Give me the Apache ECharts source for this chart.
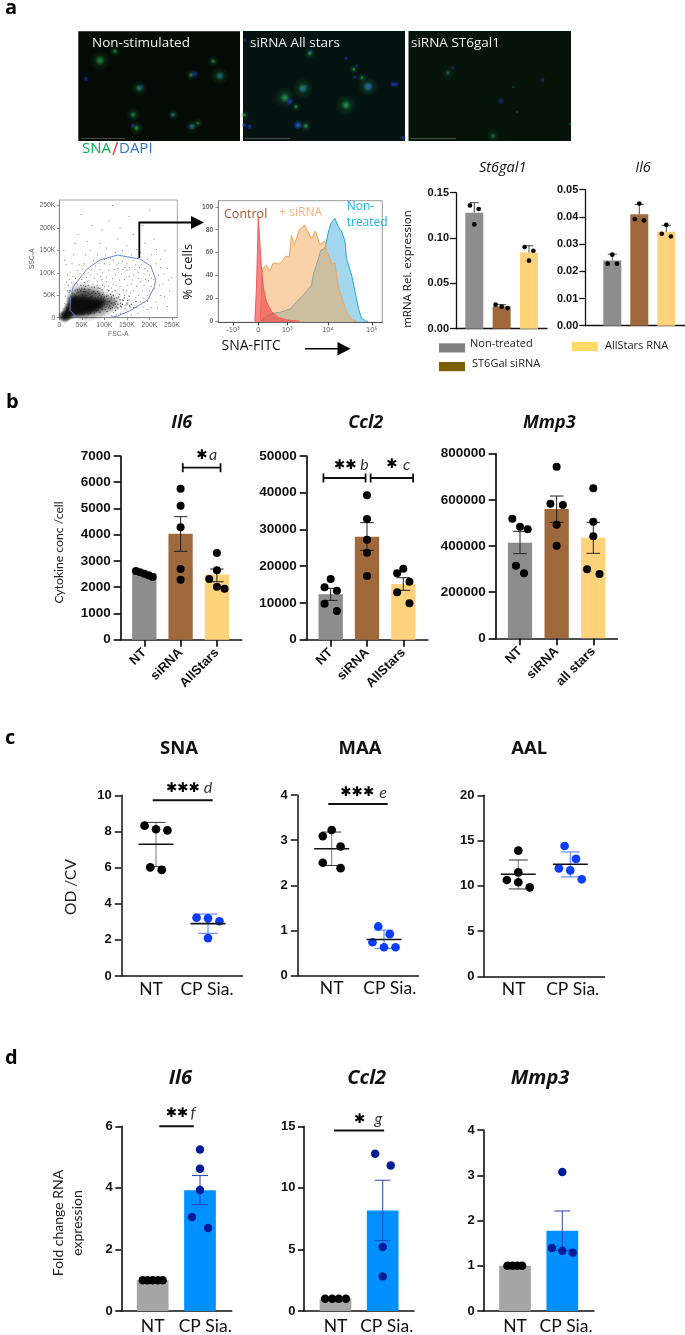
<!DOCTYPE html>
<html><head><meta charset="utf-8"><title>Figure</title>
<style>html,body{margin:0;padding:0;background:#fff}#c{width:685px;height:1335px}</style>
<script src="https://cdn.jsdelivr.net/npm/echarts@6/dist/echarts.min.js"></script>
</head><body><div id="c"></div>
<script>
// ---------- DATA ----------
const aCats=['Non-treated','ST6Gal siRNA','AllStars RNA'];
const bCats=['NT','siRNA','AllStars'];
const bCats3=['NT','siRNA','all stars'];
const cdCats=['NT','CP Sia.'];
// panel a qPCR
const aStBars=[0.128,0.0245,0.084];
const aStPts=[[0.84,0.136],[1.16,0.132],[1,0.115],[1.78,0.0265],[2,0.0243],[2.22,0.0228],[2.84,0.090],[3.16,0.086],[3,0.075]];
const aStErr=[[1,0.128,0.139],[2,0.0245,0.0265],[3,0.084,0.0915]];
const aIlBars=[0.024,0.041,0.0345];
const aIlPts=[[0.83,0.0228],[1.17,0.0228],[1,0.0261],[1.83,0.0392],[2.17,0.0387],[2,0.0449],[2.83,0.0338],[3.17,0.0328],[3,0.0371]];
const aIlErr=[[1,0.024,0.0263],[2,0.041,0.0446],[3,0.0345,0.0369]];
// panel b
const bIlBars=[2530,4040,2480];
const bIlPts=[[0.77,2617],[0.88,2566],[1,2515],[1.12,2452],[1.23,2388],[2,5755],[2,5107],[2,4281],[2,2693],[2,2287],[3,3303],[3,2642],[2.79,2312],[3,2020],[3.21,1944]];
const bIlErr=[[2,3367,4688],[3,2210,2693]];
const bCcBars=[12340,28040,15150];
const bCcPts=[[1,16500],[0.83,14250],[1.17,13340],[0.83,9800],[1.17,7800],[2,39300],[2,32850],[2,27220],[2,23680],[2,17330],[3,19330],[2.83,18060],[3.17,15790],[2.83,12890],[3.17,9890]];
const bCcErr=[[1,10700,13975],[2,24320,31850],[3,13430,16880]];
const bMmBars=[414400,560300,436100];
const bMmPts=[[0.79,518400],[1,483700],[1.21,472200],[0.89,314800],[1.11,281600],[2,743700],[1.83,583400],[2.17,577600],[2,492400],[2,401400],[3,649800],[3,505400],[3,441900],[2.83,298900],[3.17,278700]];
const bMmErr=[[1,366800,463500],[2,502500,616600],[3,368200,502500]];
// panel c
const cSnaNT=[[0.78,8.32],[1,8.12],[1.22,8.06],[0.89,6.01],[1.11,5.87]];
const cSnaCP=[[1.78,3.23],[2,3.19],[2.22,3.03],[2,2.10]];
const cSnaMean=[[1,7.29],[2,2.90]];
const cSnaErrNT=[[1,6.05,8.5]];
const cSnaErrCP=[[2,2.36,3.43]];
const cMaaNT=[[1,3.225],[0.83,3.09],[1.17,2.86],[0.83,2.50],[1.17,2.38]];
const cMaaCP=[[1.89,1.09],[2.11,0.92],[1.78,0.74],[2,0.63],[2.22,0.63]];
const cMaaMean=[[1,2.81],[2,0.80]];
const cMaaErrNT=[[1,2.44,3.18]];
const cMaaErrCP=[[2,0.60,1.01]];
const cAalNT=[[1,13.89],[1,11.49],[0.78,10.64],[1,10.39],[1.22,9.83]];
const cAalCP=[[1.89,14.4],[2.11,12.97],[1.78,11.93],[2,11.71],[2.22,10.72]];
const cAalMean=[[1,11.27],[2,12.38]];
const cAalErrNT=[[1,9.65,12.85]];
const cAalErrCP=[[2,10.98,13.74]];
// panel d
const dIlBars=[1,3.92];
const dIlNT=[[0.79,1],[0.89,1],[1,1],[1.11,1],[1.21,1]];
const dIlCP=[[2,5.25],[2,4.62],[2,3.93],[1.83,3.05],[2.17,2.70]];
const dIlErr=[[2,3.45,4.40]];
const dCcBars=[1,8.17];
const dCcNT=[[0.78,1],[0.93,1],[1.07,1],[1.22,1]];
const dCcCP=[[1.84,12.78],[2.17,11.82],[2,5.2],[2,2.8]];
const dCcErr=[[2,5.71,10.62]];
const dMmBars=[1,1.775];
const dMmNT=[[0.84,1],[0.95,1],[1.05,1],[1.15,1]];
const dMmCP=[[2,3.07],[1.78,1.39],[2,1.33],[2.22,1.29]];
const dMmErr=[[2,1.34,2.21]];
// flow histogram (display position, % of cells)
const histBlue=[[0.08,0],[0.12,2.6],[0.23,5.5],[0.35,7],[0.5,7.8],[0.74,10.8],[0.89,17],[1.05,23],[1.24,31.7],[1.28,41],[1.4,55],[1.45,62],[1.55,63.7],[1.63,78],[1.69,85.5],[1.78,90],[1.86,82.6],[1.94,78],[2.02,69.5],[2.05,55],[2.17,40.4],[2.25,25.9],[2.33,11.3],[2.4,2.6],[2.5,0.3],[2.55,0]];
const histOrange=[[0.05,0],[0.08,31],[0.1,46],[0.19,49],[0.26,44],[0.35,51],[0.5,50],[0.64,57],[0.72,56],[0.77,75],[0.84,66.6],[0.95,79.7],[1.07,84],[1.16,78],[1.24,71.8],[1.33,79],[1.43,67],[1.55,70],[1.59,62],[1.71,50],[1.78,50.6],[1.86,30],[1.98,17],[2.05,8.4],[2.17,2],[2.29,0]];
const histRed=[[-0.08,0],[-0.04,32],[0,91],[0.04,66.6],[0.08,43],[0.12,29],[0.19,17],[0.31,8.4],[0.47,3.2],[0.66,1.2],[0.97,0]];
const histTicks=[-0.59,0,0.67,1.62,2.64];
const histTickLabels=['-10³','0','10³','10⁴','10⁵'];
// gate plot, FSC-A / SSC-A in thousands
const gatePoly=[[38.6,0.7],[23.7,17],[25.2,46.7],[31,69],[60.8,107.6],[89,128],[129,139.5],[179.5,130.6],[203,115],[214,85],[211.4,69],[196,39],[157,15.6],[129,3.7],[109,0]];
const gateSparse=[[10,150],[15,118],[18,95],[22,85],[28,120],[32,140],[35,165],[40,105],[42,185],[48,230],[55,120],[58,140],[62,170],[70,150],[72,205],[85,140],[90,165],[95,195],[100,130],[105,155],[110,215],[118,250],[125,145],[130,175],[135,200],[140,150],[150,160],[155,225],[160,140],[165,185],[172,152],[180,145],[185,205],[190,165],[195,130],[205,140],[210,175],[215,120],[220,95],[225,130],[230,75],[235,150],[240,110],[245,60],[225,50],[215,35],[205,22],[195,18],[175,10],[160,6],[240,25],[250,90],[200,240],[150,120],[170,118],[140,125],[120,128],[100,120],[80,115],[190,110],[175,100],[200,95],[205,70],[185,60],[195,50],[180,80],[165,95],[150,105],[130,110],[110,105],[90,108],[70,95],[60,90],[50,85],[40,75],[35,60],[160,75],[145,85],[125,95],[105,90],[95,85],[85,80],[75,75],[170,45],[155,40],[140,30],[130,20],[120,12],[115,5],[180,35],[165,60],[150,60],[135,70],[120,75],[110,70],[100,70],[90,65],[200,60],[210,85],[192,85],[172,70],[158,55],[145,50],[128,55],[118,58],[108,50],[98,55],[182,118],[168,108],[155,92],[138,98],[122,108],[112,118],[96,100],[84,98],[72,108],[66,82],[142,62],[152,72],[162,84],[176,88],[188,72],[198,82],[146,112],[132,122],[118,88],[104,80],[92,92],[78,88],[12,128],[24,102],[30,92],[20,72],[36,88],[46,98],[44,118],[52,108],[64,100],[76,128],[88,122],[102,140],[114,132],[128,118],[142,108],[156,112],[164,128],[178,112],[188,98],[196,104],[204,88],[212,64],[222,72],[232,98],[242,84],[216,152],[226,112],[234,48],[218,22],[186,24],[172,22],[158,24],[148,12],[136,10],[126,6],[140,40],[152,30],[164,34],[176,50],[186,44],[196,36],[134,84],[126,72],[116,66],[106,62],[96,72],[84,72],[72,68],[62,80],[54,72],[44,64],[38,54],[22,56],[14,48],[12,32],[8,20],[18,60],[16,80],[28,78]];
const gateMedium=[[30,10],[35,22],[38,35],[42,48],[45,14],[48,60],[52,30],[55,8],[58,70],[60,50],[62,18],[66,62],[68,42],[70,10],[72,55],[75,28],[78,68],[80,45],[82,15],[85,58],[88,36],[90,50],[92,22],[95,62],[98,42],[100,30],[102,18],[105,48],[108,36],[110,60],[112,26],[115,42],[118,22],[120,50],[122,34],[125,16],[128,44],[130,30],[135,40],[138,24],[142,38],[146,20],[150,32],[155,48],[160,30],[165,22],[170,36],[48,72],[56,78],[64,72],[28,30],[26,45],[24,60],[30,55],[36,48],[44,38],[40,62],[50,44],[54,58],[74,38],[84,26],[94,34],[104,24],[114,52],[124,60],[134,52],[60,36],[66,26],[72,18],[34,14],[20,30],[16,22],[22,12],[46,24],[56,64],[86,66],[96,52],[116,32],[126,24],[136,32],[32,40],[34,52],[38,44],[42,56],[46,52],[50,64],[52,50],[56,46],[58,58],[62,44],[64,54],[68,52],[70,46],[74,48],[76,58],[80,54],[82,40],[86,46],[88,54],[92,44],[94,48],[98,34],[100,46],[102,38],[106,30],[108,42],[110,22],[112,36],[114,20],[116,46],[120,28],[122,42],[124,30],[126,36],[130,22],[132,46],[136,26],[140,30],[144,44],[148,28],[152,38],[156,26],[90,12],[96,18],[78,10],[64,8],[50,10],[40,8],[86,16],[106,14]];
const gateCore=[[12,5],[15,3],[18,8],[10,2],[20,14],[24,8],[22,20],[26,26],[28,16],[30,34],[32,22],[34,28],[36,18],[38,30],[40,24],[40,38],[42,16],[44,30],[44,22],[46,36],[48,26],[48,18],[50,32],[52,24],[52,40],[54,20],[56,30],[56,36],[58,26],[60,22],[60,32],[62,28],[64,38],[64,20],[66,30],[68,24],[70,34],[72,26],[74,30],[76,22],[78,34],[80,28],[84,32],[86,24],[90,30],[94,36],[36,12],[46,12],[58,14],[70,18],[28,42],[34,40]];
const gateHalo=[[34,32],[42,44],[52,50],[62,46],[72,44],[84,42],[96,40],[108,34],[118,32],[50,14],[66,12],[82,16],[98,20],[30,18],[40,56],[60,58],[80,54]];
// micrographs: position inside a 162x110 frame, blob size
const img1Green=[[21.7,29.3,9],[36.7,20,5],[61,57,7],[141.7,44.7,8],[135,30,5],[113,43.7,5],[55,83.7,6],[95,83.7,5],[114.3,95.3,6],[58.3,97,6],[120,92,4]];
const img1Blue=[[7.7,47.7,3],[116.7,42.7,4],[141.7,44.7,3],[63.3,56,3],[55,94.7,3],[113,96,3],[94.3,83.7,2.5]];
const img2Green=[[41.7,66.7,9],[60,57.3,9],[53,75.7,4],[62.7,95,5],[103,74,9],[125,55.7,9],[110.7,38.3,4],[119,46.7,4],[66.7,22.3,5],[55,94,4],[1.3,84,4]];
const img2Blue=[[46.7,70.7,4],[60,59,3],[125,55.7,5],[150,53.3,3],[153,53.3,3],[55,94,5],[6.7,95.7,3],[103,27.3,2],[114,34.7,2],[111.7,46.3,2],[68.3,20.7,2],[1.3,94,3],[160,107,3],[63,55.7,2],[1.7,9,2]];
const img3Green=[[39.3,41.7,5],[84.3,105,6],[108.3,81,2],[104.3,56,2],[161,93,2]];
const img3Blue=[[44.3,36.7,3],[39.3,42.7,2],[133.7,49,3],[92,70,4]];
const imgTitles=['Non-stimulated','siRNA All stars','siRNA ST6gal1'];

// ---------- STYLES ----------
const GRAY='#8d8d8d',BROWN='#9f693c',YEL='#ffd27b',BLUEBAR='#0090ff',GRAYD='#a6a6a6';
const BOLD='"Liberation Sans",Arial,sans-serif',SOFT='Lato,"Open Sans",sans-serif',TXT='#111';
const grids=[],xAxes=[],yAxes=[],series=[],titles=[],graphics=[];
function soft(r,g,b,a){return {type:'radial',x:0.5,y:0.5,r:0.5,colorStops:[{offset:0,color:`rgba(${r},${g},${b},${a})`},{offset:0.45,color:`rgba(${r},${g},${b},${a*0.55})`},{offset:1,color:`rgba(${r},${g},${b},0)`}]};}

function addGrid(o){
  const i=grids.length;
  grids.push({left:o.l,top:o.t,width:o.r-o.l,height:o.b-o.t,containLabel:false,show:!!o.bg,backgroundColor:o.bg||'transparent',borderWidth:0});
  const xmin=1-(o.c1-o.l)/o.sp, xmax=1+(o.r-o.c1)/o.sp;
  const tv=o.tickVals||[], lv=o.labelVals||tv, labs=o.labels||[];
  xAxes.push({type:'value',gridIndex:i,min:xmin,max:xmax,splitLine:{show:false},
    axisLine:{show:true,onZero:false,lineStyle:{color:'#111',width:o.lw||1.6}},
    axisTick:{show:!!o.xTick,customValues:tv,length:o.xTick||0,lineStyle:{color:'#111',width:o.lw||1.6}},
    axisLabel:{show:labs.length>0,customValues:lv,rotate:o.rot||0,margin:o.xm||5,color:TXT,
      fontFamily:o.xBold?BOLD:SOFT,fontWeight:o.xBold?'bold':'normal',fontSize:o.xs||16,
      formatter:v=>{let k=lv.findIndex(u=>Math.abs(u-v)<1e-6);return k<0?'':labs[k];}}});
  yAxes.push({type:'value',gridIndex:i,min:0,max:o.ymax,interval:o.yi,splitLine:{show:false},
    axisLine:{show:true,onZero:false,lineStyle:{color:'#111',width:o.lw||1.6}},
    axisTick:{show:true,length:o.ytl||6.5,lineStyle:{color:'#111',width:o.lw||1.6}},
    axisLabel:{margin:o.ym||3,color:TXT,fontFamily:BOLD,fontWeight:'bold',fontSize:o.ys||13,
      formatter:o.yfmt||(v=>String(v))}});
  return i;
}
function bars(g,vals,colors,w){
  series.push({type:'bar',xAxisIndex:g,yAxisIndex:g,barWidth:w,z:2,silent:true,
    data:vals.map((v,i)=>({value:[i+1,v],itemStyle:{color:colors[i]}}))});
}
function pts(g,data,color,size){
  series.push({type:'scatter',xAxisIndex:g,yAxisIndex:g,data,symbolSize:size,z:5,silent:true,clip:false,itemStyle:{color,opacity:1}});
}
function seg(x1,y1,x2,y2,stroke,lw){return {type:'line',shape:{x1,y1,x2,y2},style:{stroke,lineWidth:lw}};}
function err(g,data,color,cap,lw,noBottom,stemColor){
  series.push({type:'custom',xAxisIndex:g,yAxisIndex:g,data,encode:{x:0,y:[1,2]},z:4,silent:true,clip:false,
    renderItem:(p,api)=>{
      const a=api.coord([api.value(0),api.value(1)]),b=api.coord([api.value(0),api.value(2)]);
      const kids=[seg(a[0],a[1],b[0],b[1],stemColor||color,lw),seg(b[0]-cap,b[1],b[0]+cap,b[1],color,lw)];
      if(!noBottom)kids.push(seg(a[0]-cap,a[1],a[0]+cap,a[1],color,lw));
      return {type:'group',children:kids};
    }});
}
function means(g,data,half){
  series.push({type:'custom',xAxisIndex:g,yAxisIndex:g,data,encode:{x:0,y:1},z:6,silent:true,clip:false,
    renderItem:(p,api)=>{const a=api.coord([api.value(0),api.value(1)]);return seg(a[0]-half,a[1],a[0]+half,a[1],'#111',1.6);}});
}
function bracket(g,x1,x2,y,capPx,lw){
  series.push({type:'custom',xAxisIndex:g,yAxisIndex:g,data:[[x1,x2,y]],encode:{x:[0,1],y:2},z:6,silent:true,clip:false,
    renderItem:(p,api)=>{
      const a=api.coord([api.value(0),api.value(2)]),b=api.coord([api.value(1),api.value(2)]);
      const kids=[seg(a[0],a[1],b[0],b[1],'#111',lw||2)];
      if(capPx){kids.push(seg(a[0],a[1]-capPx,a[0],a[1]+capPx,'#111',lw||2),seg(b[0],b[1]-capPx,b[0],b[1]+capPx,'#111',lw||2));}
      return {type:'group',children:kids};
    }});
}
function title(text,x,y,size,italic,weight){
  titles.push({text,left:x,top:y,textAlign:'center',textVerticalAlign:'middle',padding:0,
    textStyle:{fontFamily:'"Open Sans",sans-serif',fontSize:size,fontStyle:italic?'italic':'normal',fontWeight:weight||'bold',color:'#111'}});
}
function text(str,x,y,o){o=o||{};
  graphics.push({type:'text',x,y,rotation:o.rot||0,z:50,silent:true,style:{text:str,fill:o.c||'#111',
    font:`${o.it?'italic ':''}${o.w||'normal'} ${o.s||13}px ${o.f||SOFT}`,
    align:o.a||'left',verticalAlign:'middle',lineHeight:o.lh}});
}
function sig(stars,sx,letter,lx,y){
  text(stars,sx,y,{s:13.5,w:'bold',f:'"DejaVu Sans"',a:'center',c:'#000'});
  text(letter,lx,y,{s:16,it:true,a:'center',c:'#333'});
}

// ---------- PANEL a: micrographs ----------
function micro(l,r,t,b,bg,green,blue,k){
  const g=grids.length;
  grids.push({left:l,top:t,width:r-l,height:b-t,show:true,backgroundColor:bg,borderWidth:0,containLabel:false});
  xAxes.push({type:'value',gridIndex:g,min:0,max:162,show:false});
  yAxes.push({type:'value',gridIndex:g,min:0,max:110,inverse:true,show:false});
  series.push({type:'scatter',xAxisIndex:g,yAxisIndex:g,data:green,symbolSize:v=>v[2]*2.4,z:2,silent:true,
    itemStyle:{color:soft(25,120,55,0.55*k)}});
  series.push({type:'scatter',xAxisIndex:g,yAxisIndex:g,data:green,symbolSize:v=>v[2]*1.1,z:3,silent:true,
    itemStyle:{color:soft(35,185,85,0.95*k)}});
  series.push({type:'scatter',xAxisIndex:g,yAxisIndex:g,data:blue,symbolSize:v=>v[2]*2,z:4,silent:true,
    itemStyle:{color:soft(35,60,225,1*k)}});
}
micro(78.3,240,31.3,141,'#040b06',img1Green,img1Blue,0.85);
micro(243,405,31,141,'#051311',img2Green,img2Blue,1);
micro(408.5,571,31,141,'#061409',img3Green,img3Blue,0.6);
[[92,43],[250,43],[411,43]].forEach((p,i)=>text(imgTitles[i],p[0],p[1],{s:13.5,c:'#f2f2f2',f:'"Open Sans",sans-serif'}));
[[81,125],[245,290],[411,456]].forEach(p=>graphics.push({type:'line',z:50,silent:true,shape:{x1:p[0],y1:138.5,x2:p[1],y2:138.5},style:{stroke:'rgba(150,150,150,0.45)',lineWidth:1}}));
text('SNA',82,148.5,{s:15,c:'#00b050',f:'"Open Sans",sans-serif'});
graphics.push({type:'line',z:50,silent:true,shape:{x1:113,y1:155,x2:117.5,y2:142},style:{stroke:'#f02020',lineWidth:1.2}});
text('DAPI',119,148.5,{s:15,c:'#2e75c6',f:'"Open Sans",sans-serif'});

// ---------- gate plot ----------
(function(){
  const g=grids.length,col='#666';
  grids.push({left:59.3,top:200,width:118,height:117.7,show:true,backgroundColor:'#fff',borderColor:'#aaa',borderWidth:1,containLabel:false});
  const t=[0,50,100,150,200,250];
  const fmt=v=>v===0?'0':v+'K';
  const ax=(m)=>({type:'value',gridIndex:g,min:0,max:262,splitLine:{show:false},
    axisLine:{show:true,onZero:false,lineStyle:{color:'#888',width:1}},
    axisTick:{show:true,customValues:t,length:2.5,lineStyle:{color:'#777',width:0.8}},
    axisLabel:{customValues:t,margin:m,fontSize:6.8,color:col,fontFamily:BOLD,formatter:fmt}});
  xAxes.push(Object.assign(ax(4),{name:'FSC-A',nameLocation:'middle',nameGap:13,nameTextStyle:{fontSize:6.8,color:col,fontFamily:BOLD}}));
  yAxes.push(Object.assign(ax(4),{name:'SSC-A',nameLocation:'middle',nameGap:23,nameTextStyle:{fontSize:6.8,color:col,fontFamily:BOLD}}));
  const add=(d,size,color,op)=>series.push({type:'scatter',xAxisIndex:g,yAxisIndex:g,data:d,symbolSize:size,z:2,silent:true,
    itemStyle:{color,opacity:op}});
  add(gateHalo,20,soft(20,20,20,0.42),1);
  add(gateCore,13,soft(10,10,10,0.75),1);
  add(gateSparse,1,'#111',0.7);
  add(gateMedium,1.4,'#111',0.7);
  series.push({type:'line',xAxisIndex:g,yAxisIndex:g,data:gatePoly,symbol:'none',z:3,silent:true,lineStyle:{color:'#6f86d6',width:1}});
})();
// arrow from gate to histogram
graphics.push({type:'polyline',z:50,silent:true,shape:{points:[[139.3,258],[139.3,222.5],[192,222.5]]},style:{stroke:'#000',lineWidth:1.8,fill:null}});
graphics.push({type:'polygon',z:50,silent:true,shape:{points:[[191,216],[204,222.5],[191,229]]},style:{fill:'#000'}});

// ---------- histogram ----------
(function(){
  const g=grids.length,col='#666';
  grids.push({left:218.3,top:200.7,width:164,height:121.6,show:true,backgroundColor:'#fff',borderColor:'#999',borderWidth:1,containLabel:false});
  xAxes.push({type:'value',gridIndex:g,min:-0.93,max:2.884,splitLine:{show:false},
    axisLine:{show:true,onZero:false,lineStyle:{color:'#555',width:1}},
    axisTick:{show:true,customValues:histTicks,length:3,lineStyle:{color:'#333',width:1}},
    axisLabel:{customValues:histTicks,margin:4,fontSize:7.5,color:col,fontFamily:BOLD,
      formatter:v=>{const k=histTicks.findIndex(u=>Math.abs(u-v)<1e-6);return k<0?'':histTickLabels[k];}}});
  const yt=[0,20,40,60,80,100];
  yAxes.push({type:'value',gridIndex:g,min:-0.87,max:105.3,splitLine:{show:false},
    axisLine:{show:true,onZero:false,lineStyle:{color:'#888',width:1}},
    axisTick:{show:true,customValues:yt,length:3,lineStyle:{color:'#777',width:0.8}},
    axisLabel:{customValues:yt,margin:5,fontSize:6.8,color:col,fontFamily:BOLD,fontWeight:'bold',formatter:v=>String(v)}});
  const area=(d,line,fill,op,z)=>series.push({type:'line',xAxisIndex:g,yAxisIndex:g,data:d,symbol:'none',z,silent:true,
    lineStyle:{color:line,width:1},areaStyle:{color:fill,opacity:op,origin:'start'}});
  area(histBlue,'#25a8d0','#56b6df',0.55,2);
  area(histOrange,'#f0a458','#f5a555',0.5,3);
  area(histRed,'#f25a5a','#f04545',0.65,4);
})();
text('Control',224,214,{s:12.5,c:'#a5562a',f:'"Open Sans",sans-serif'});
text('+ siRNA',279.3,212.5,{s:12,c:'#f4b183',f:'"Open Sans",sans-serif'});
text('Non-',346.7,207,{s:12,c:'#18b4ee',f:'"Open Sans",sans-serif'});
text('treated',346.7,222.7,{s:12,c:'#18b4ee',f:'"Open Sans",sans-serif'});
text('% of cells',188.3,271.7,{s:13,rot:Math.PI/2,a:'center',f:'"Open Sans",sans-serif'});
text('SNA-FITC',221.5,346.5,{s:14,f:'"Open Sans",sans-serif'});
graphics.push({type:'line',z:50,silent:true,shape:{x1:305,y1:348.7,x2:340,y2:348.7},style:{stroke:'#000',lineWidth:1.4}});
graphics.push({type:'polygon',z:50,silent:true,shape:{points:[[337.5,342],[350.5,348.7],[337.5,355.5]]},style:{fill:'#000'}});

// ---------- panel a bars ----------
const aCols=[GRAY,BROWN,YEL];
let g;
g=addGrid({l:456,r:547,t:192.7,b:328.7,c1:474.3,sp:27.35,ymax:0.15,yi:0.05,ys:11,ytl:6,ym:7,lw:1.3,yfmt:v=>v.toFixed(2)});
bars(g,aStBars,aCols,18); err(g,aStErr,'#333',4.5,0.9,true); pts(g,aStPts,'#000',4.7);
g=addGrid({l:585.3,r:685,t:189.7,b:325.7,c1:612.3,sp:27,ymax:0.05,yi:0.01,ys:11,ytl:6,ym:7,lw:1.3,yfmt:v=>v.toFixed(2)});
bars(g,aIlBars,aCols,18); err(g,aIlErr,'#333',4.5,0.9,true); pts(g,aIlPts,'#000',4.7);
title('St6gal1',502.7,168,14.5,true,'normal');
title('Il6',643,168,14.5,true,'normal');
text('mRNA Rel. expression',408,269,{s:11.5,rot:Math.PI/2,a:'center',f:'"Open Sans",sans-serif'});
[[439,343.3,'#808080',aCats[0],470,344.3],[439,362,'#7f6000',aCats[1],472,363.5],[571.7,342,'#ffd966',aCats[2],605,346]].forEach(a=>{
  graphics.push({type:'rect',z:50,silent:true,shape:{x:a[0],y:a[1],width:26,height:9.2},style:{fill:a[2]}});
  text(a[3],a[4],a[5],{s:11,f:'"Open Sans",sans-serif',c:'#222'});
});

// ---------- panel b ----------
const bx=[1,2,3],bOpt={t:456,b:639.7,sp:36.3,tickVals:bx,xTick:7,rot:45,xBold:true,xs:13,xm:11,lw:1.7,ytl:7,ys:13.5,ym:10};
g=addGrid(Object.assign({},bOpt,{l:120.7,r:241.7,c1:144.3,ymax:7000,yi:1000,labels:bCats}));
bars(g,bIlBars,aCols,24.3); err(g,bIlErr,'#222',6.8,1); pts(g,bIlPts,'#000',8); bracket(g,2.06,3.10,6554,4.5,1.8);
g=addGrid(Object.assign({},bOpt,{l:306.7,r:427.7,c1:330.7,ymax:50000,yi:10000,labels:bCats}));
bars(g,bCcBars,aCols,24.3); err(g,bCcErr,'#222',6.8,1); pts(g,bCcPts,'#000',8); bracket(g,0.80,1.96,44010,4.5,1.8); bracket(g,2.10,3.27,44010,4.5,1.8);
g=addGrid(Object.assign({},bOpt,{l:495.7,r:617.3,t:453.7,b:638.3,c1:520,sp:36.65,ymax:800000,yi:200000,labels:bCats3}));
bars(g,bMmBars,aCols,24.3); err(g,bMmErr,'#222',6.8,1); pts(g,bMmPts,'#000',8);
title('Il6',181.7,422.5,18,true);
title('Ccl2',365.7,422.5,18,true);
title('Mmp3',549.3,422.5,18,true);
text('Cytokine conc /cell',58.7,552.5,{s:12.2,rot:Math.PI/2,a:'center',c:'#222'});
sig('✱',201.7,'a',213,455);
sig('✱✱',345,'b',364.5,465);
sig('✱',391.7,'c',406.7,464.5);

// ---------- panel c ----------
const cOpt={t:795.3,b:976,sp:52,ytl:6.5,lw:1.5,ys:13,ym:9.5,xm:4,xs:17.5,tickVals:[]};
const BLUE='#0b3dff',BLUEERR='#4d78ff';
function dotPanel(o,nt,cp,mean,eN,eC,half,cap){
  const g=addGrid(Object.assign({},cOpt,o,{labels:cdCats}));
  err(g,eN,'#333',cap,1,false,'#777'); err(g,eC,BLUEERR,cap,1);
  pts(g,nt,'#000',8.7); pts(g,cp,BLUE,8.7); means(g,mean,half); return g;
}
g=dotPanel({l:121.3,r:242.3,c1:156,ymax:10,yi:2,labelVals:[0.904,1.98]},cSnaNT,cSnaCP,cSnaMean,cSnaErrNT,cSnaErrCP,17.5,9.5);
bracket(g,0.937,2.09,9.72,0,2);
g=dotPanel({l:297.3,r:418.3,c1:331.7,sp:52.3,t:795,b:975.7,ymax:4,yi:1,labelVals:[1,2.11]},cMaaNT,cMaaCP,cMaaMean,cMaaErrNT,cMaaErrCP,17.5,9.5);
bracket(g,0.935,2.07,3.8,0,2);
g=dotPanel({l:484,r:604.7,c1:518.3,b:976.3,ymax:20,yi:5,labelVals:[0.91,2.046]},cAalNT,cAalCP,cAalMean,cAalErrNT,cAalErrCP,17.5,9.5);
title('SNA',179,748.5,18.5,false);
title('MAA',360,748.5,18.5,false);
title('AAL',529.3,748.5,18.5,false);
text('OD /CV',70.7,887,{s:15.5,rot:Math.PI/2,a:'center',c:'#222'});
sig('✱✱✱',182.7,'d',208,788);
sig('✱✱✱',357,'e',383,792.5);

// ---------- panel d ----------
const dOpt={sp:47.3,t:1126.3,b:1313.7,ytl:6,lw:1.6,ys:13,ym:8.5,xm:6,xs:17.5,tickVals:[]};
const NAVY='#001c96',NAVYERR='#2a45b5',dCols=[GRAYD,BLUEBAR];
g=addGrid(Object.assign({},dOpt,{l:121.3,r:231.7,c1:152.7,ymax:6,yi:2,labels:cdCats,labelVals:[1,2.11]}));
bars(g,dIlBars,dCols,31.7); err(g,dIlErr,NAVYERR,8,1); pts(g,dIlNT,'#000',8.5); pts(g,dIlCP,NAVY,8.5); bracket(g,1.14,1.87,6,0,2);
g=addGrid(Object.assign({},dOpt,{l:304,r:414,c1:335.5,sp:47.2,ymax:15,yi:5,labels:cdCats,labelVals:[1,2.085]}));
bars(g,dCcBars,dCols,31.7); err(g,dCcErr,NAVYERR,8,1); pts(g,dCcNT,'#000',8.5); pts(g,dCcCP,NAVY,8.5); bracket(g,0.97,2.03,14.65,0,2);
g=addGrid(Object.assign({},dOpt,{l:483.3,r:594,c1:515,t:1130,b:1317,ymax:4,yi:1,labels:cdCats,labelVals:[1,2.08]}));
bars(g,dMmBars,dCols,31.7); err(g,dMmErr,NAVYERR,8,1); pts(g,dMmNT,'#000',8.5); pts(g,dMmCP,NAVY,8.5);
title('Il6',180.3,1078,20,true);
title('Ccl2',366.7,1078,20,true);
title('Mmp3',540,1078,20,true);
text('Fold change RNA',58,1223,{s:14,rot:Math.PI/2,a:'center',c:'#222'});
text('expression',77.7,1223,{s:14,rot:Math.PI/2,a:'center',c:'#222'});
sig('✱✱',176.7,'f',193,1113);
sig('✱',359.3,'g',378.3,1119);

// panel letters
[['a',5,8],['b',6,402],['c',5,738],['d',5,1058]].forEach(a=>text(a[0],a[1],a[2],{s:20,w:'bold',f:'"Open Sans",sans-serif',c:'#000'}));

const chart=echarts.init(document.getElementById('c'),null,{renderer:'canvas',width:685,height:1335});
chart.setOption({animation:false,backgroundColor:'#fff',title:titles,grid:grids,xAxis:xAxes,yAxis:yAxes,series,graphic:{elements:graphics}});
</script></body></html>
